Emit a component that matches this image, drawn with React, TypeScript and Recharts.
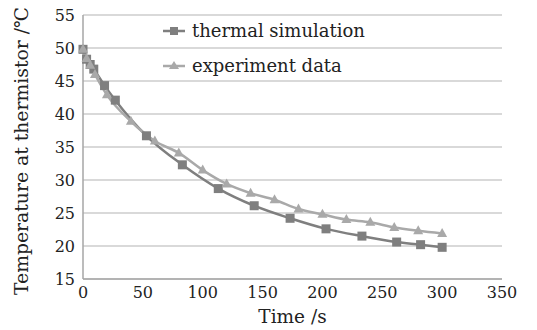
import React from "react";
import {
  LineChart,
  Line,
  XAxis,
  YAxis,
  CartesianGrid,
  Legend,
  Label,
} from "recharts";

const simTime = [0, 3, 6, 9, 18, 27, 53, 83, 113, 143, 173, 203, 233, 262, 282, 300];
const simTemp = [49.8, 48.3, 47.5, 46.8, 44.3, 42.1, 36.7, 32.3, 28.7, 26.1, 24.2, 22.6, 21.5, 20.6, 20.2, 19.8];

const expTime = [0, 3, 6, 10, 20, 40, 60, 80, 100, 120, 140, 160, 180, 200, 220, 240, 260, 280, 300];
const expTemp = [49.8, 48.4, 47.4, 46.0, 42.9, 38.9, 35.9, 34.1, 31.5, 29.4, 28.0, 27.0, 25.6, 24.8, 24.0, 23.6, 22.8, 22.3, 21.9];

const xTicks = [0, 50, 100, 150, 200, 250, 300, 350];
const yTicks = [15, 20, 25, 30, 35, 40, 45, 50, 55];

const seriesNames = ["thermal simulation", "experiment data"];

const simData = simTime.map((t, i) => ({ time: t, temp: simTemp[i] }));
const expData = expTime.map((t, i) => ({ time: t, temp: expTemp[i] }));

const SIM_COLOR = "#7f7f7f";
const EXP_COLOR = "#a9a9a9";

function SquareDot(props: any) {
  const { cx, cy, index } = props;
  if (cx == null || cy == null) return null;
  return <rect key={`s-${index}`} x={cx - 4.5} y={cy - 4.5} width={9} height={9} fill={SIM_COLOR} />;
}

function TriangleDot(props: any) {
  const { cx, cy, index } = props;
  if (cx == null || cy == null) return null;
  return (
    <polygon
      key={`t-${index}`}
      points={`${cx},${cy - 5.5} ${cx + 5},${cy + 3.5} ${cx - 5},${cy + 3.5}`}
      fill={EXP_COLOR}
    />
  );
}

function LegendBox() {
  const rows = [
    { name: seriesNames[0], color: SIM_COLOR, square: true },
    { name: seriesNames[1], color: EXP_COLOR, square: false },
  ];
  return (
    <div>
      {rows.map((r) => (
        <div key={r.name} style={{ display: "flex", alignItems: "center", height: 35 }}>
          <svg width={28} height={14} style={{ marginRight: 3 }}>
            <line x1={2} y1={7} x2={24} y2={7} stroke={r.color} strokeWidth={2.5} />
            {r.square ? (
              <rect x={9} y={3} width={8} height={8} fill={r.color} />
            ) : (
              <polygon points="13,2 18,10 8,10" fill={r.color} />
            )}
          </svg>
          <span style={{ fontSize: 18, color: "#222" }}>{r.name}</span>
        </div>
      ))}
    </div>
  );
}

export default function App() {
  return (
    <div
      style={{
        position: "absolute",
        left: 0,
        top: 0,
        width: 537,
        height: 330,
        background: "#fff",
        fontFamily: "'DejaVu Serif', serif",
      }}
    >
      <LineChart width={537} height={330} margin={{ top: 15, right: 35, bottom: 0, left: 0 }}>
        <CartesianGrid vertical={false} stroke="#b4b4b4" strokeWidth={1.2} />
        <XAxis
          dataKey="time"
          type="number"
          domain={[0, 350]}
          ticks={xTicks}
          allowDuplicatedCategory={false}
          height={51}
          tickLine={false}
          axisLine={{ stroke: "#a6a6a6", strokeWidth: 1.5 }}
          tick={{ fontSize: 16, fill: "#222" }}
        >
          <Label value="Time /s" position="insideBottom" offset={7} style={{ fontSize: 18.5, fill: "#222" }} />
        </XAxis>
        <YAxis
          dataKey="temp"
          type="number"
          domain={[15, 55]}
          ticks={yTicks}
          width={83}
          tickLine={false}
          axisLine={{ stroke: "#a6a6a6", strokeWidth: 1.5 }}
          tick={{ fontSize: 16, fill: "#222" }}
        >
          <Label
            value="Temperature at thermistor /℃"
            angle={-90}
            position="center"
            dx={-20}
            dy={4}
            style={{ fontSize: 18.8, fill: "#222" }}
          />
        </YAxis>
        <Legend
          layout="vertical"
          align="center"
          verticalAlign="middle"
          content={() => <LegendBox />}
          wrapperStyle={{ position: "absolute", top: 13, left: 161, width: 240 }}
        />
        <Line
          data={simData}
          dataKey="temp"
          name={seriesNames[0]}
          type="monotone"
          stroke={SIM_COLOR}
          strokeWidth={2.5}
          dot={SquareDot}
          activeDot={false}
          isAnimationActive={false}
        />
        <Line
          data={expData}
          dataKey="temp"
          name={seriesNames[1]}
          type="monotone"
          stroke={EXP_COLOR}
          strokeWidth={2.5}
          dot={TriangleDot}
          activeDot={false}
          isAnimationActive={false}
        />
      </LineChart>
    </div>
  );
}
